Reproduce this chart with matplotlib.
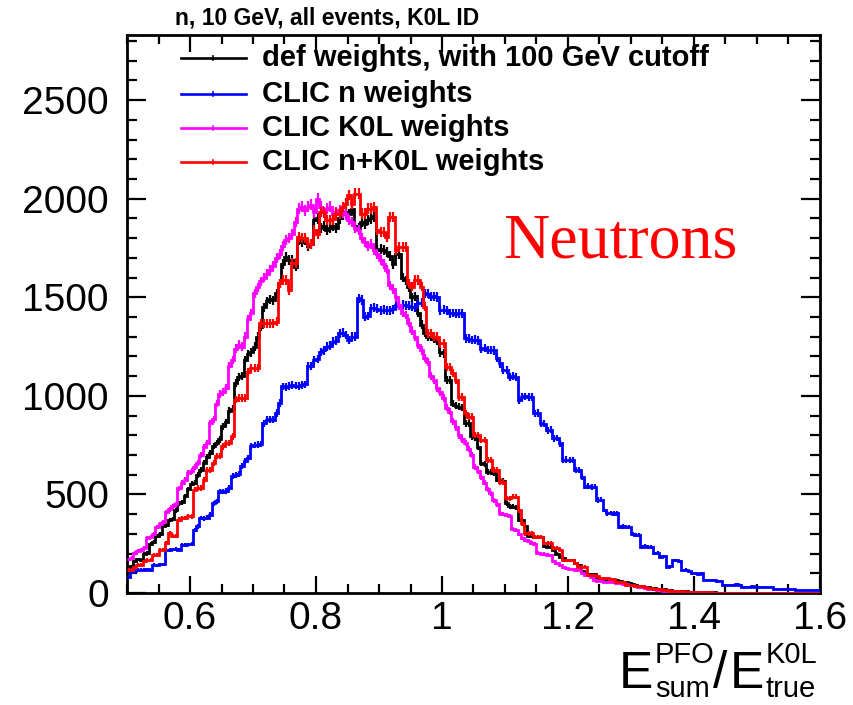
import numpy as np
import matplotlib
matplotlib.use('Agg')
import matplotlib.pyplot as plt
from matplotlib.lines import Line2D

plt.rcParams['font.family'] = ['Liberation Sans', 'DejaVu Sans']

x_lo, x_hi, bin_w = 0.5, 1.6, 0.005

# def weights, with 100 GeV cutoff (black)
def_weights = [
    130, 135, 160, 170, 165, 200, 205, 250, 260, 290,
    300, 340, 345, 370, 375, 420, 455, 460, 490, 525,
    555, 560, 600, 625, 660, 690, 710, 745, 760, 780,
    845, 865, 925, 935, 1065, 1095, 1100, 1180, 1210, 1220,
    1250, 1300, 1350, 1450, 1480, 1490, 1485, 1520, 1570, 1670,
    1705, 1690, 1690, 1655, 1790, 1780, 1790, 1760, 1770, 1890,
    1900, 1850, 1860, 1840, 1850, 1860, 1850, 1900, 1920, 1930,
    1920, 1950, 1860, 1850, 1880, 1870, 1890, 1900, 1910, 1740,
    1745, 1740, 1730, 1710, 1670, 1720, 1720, 1600, 1585, 1550,
    1500, 1505, 1420, 1360, 1320, 1300, 1300, 1290, 1280, 1220,
    1215, 1080, 1080, 960, 950, 945, 940, 860, 860, 795,
    790, 740, 660, 655, 615, 615, 610, 575, 575, 570,
    455, 440, 438, 435, 370, 368, 340, 290, 288, 285,
    284, 282, 240, 235, 232, 218, 200, 184, 180, 167,
    166, 165, 150, 140, 110, 100, 98, 97, 95, 80,
    70, 68, 66, 66, 65, 64, 62, 58, 55, 50,
    46, 42, 38, 35, 32, 30, 27, 25, 22, 20,
    18, 16, 14, 12, 11, 10, 9, 8, 7, 6,
    5, 5, 4, 4, 3, 3, 3, 2, 2, 2,
    2, 1, 1, 1, 1, 1, 0, 1, 0, 0,
    0, 0, 0, 0, 0, 0, 0, 0, 0, 0,
    0, 0, 0, 0, 0, 0, 0, 0, 0, 0,
]

# CLIC n weights (blue)
clic_n = [
    82, 106, 110, 118, 118, 118, 120, 117, 144, 142,
    145, 146, 220, 218, 221, 223, 220, 245, 244, 246,
    247, 321, 338, 380, 378, 382, 397, 456, 465, 516,
    514, 518, 532, 592, 600, 602, 642, 668, 685, 744,
    750, 752, 755, 862, 879, 880, 878, 913, 963, 1048,
    1046, 1050, 1056, 1052, 1050, 1055, 1058, 1149, 1150, 1182,
    1185, 1224, 1230, 1250, 1255, 1275, 1280, 1317, 1320, 1308,
    1283, 1300, 1300, 1494, 1486, 1401, 1405, 1444, 1446, 1442,
    1435, 1437, 1433, 1435, 1440, 1460, 1458, 1462, 1460, 1457,
    1452, 1450, 1469, 1471, 1520, 1518, 1503, 1505, 1501, 1435,
    1437, 1433, 1418, 1420, 1416, 1418, 1419, 1291, 1290, 1283,
    1285, 1281, 1240, 1242, 1232, 1234, 1230, 1190, 1164, 1131,
    1129, 1097, 1099, 1095, 978, 995, 997, 993, 995, 911,
    913, 860, 858, 826, 828, 784, 786, 759, 675, 677,
    673, 675, 624, 626, 590, 540, 542, 538, 540, 472,
    474, 421, 404, 406, 402, 404, 336, 338, 334, 336,
    300, 294, 292, 235, 237, 233, 235, 201, 203, 184,
    186, 133, 135, 167, 165, 160, 116, 118, 110, 99,
    101, 98, 99, 66, 67, 65, 64, 63, 62, 41,
    41, 40, 42, 46, 40, 32, 32, 31, 33, 32,
    32, 30, 30, 28, 30, 21, 21, 20, 22, 21,
    20, 18, 15, 15, 14, 15, 14, 15, 13, 14,
]

# CLIC K0L weights (magenta)
clic_k0l = [
    170, 180, 205, 215, 220, 230, 280, 285, 300, 335,
    350, 360, 410, 425, 440, 450, 530, 560, 575, 610,
    620, 640, 660, 700, 740, 760, 860, 880, 960, 1010,
    1020, 1040, 1150, 1180, 1240, 1260, 1250, 1300, 1390, 1420,
    1520, 1550, 1580, 1600, 1620, 1640, 1660, 1700, 1720, 1760,
    1790, 1800, 1820, 1880, 1950, 1960, 1940, 1960, 1970, 1930,
    2000, 1960, 1930, 1950, 1960, 1920, 1930, 1940, 1930, 1920,
    1890, 1880, 1850, 1840, 1800, 1780, 1760, 1770, 1740, 1720,
    1690, 1670, 1640, 1560, 1540, 1500, 1460, 1420, 1410, 1370,
    1330, 1300, 1260, 1230, 1190, 1170, 1100, 1080, 1040, 1020,
    990, 940, 920, 870, 840, 800, 780, 760, 730, 700,
    640, 620, 590, 560, 525, 505, 470, 450, 405, 400,
    395, 390, 325, 320, 300, 280, 270, 265, 255, 250,
    205, 200, 198, 195, 192, 160, 150, 140, 130, 125,
    122, 120, 118, 117, 100, 92, 90, 80, 66, 62,
    60, 58, 57, 56, 54, 52, 50, 48, 45, 42,
    40, 36, 32, 28, 25, 22, 20, 18, 16, 14,
    12, 11, 10, 9, 8, 7, 6, 6, 5, 4,
    4, 3, 3, 3, 2, 2, 2, 2, 1, 1,
    1, 1, 1, 1, 0, 1, 0, 1, 0, 0,
    0, 0, 0, 1, 0, 0, 0, 0, 0, 0,
    0, 0, 0, 0, 0, 0, 0, 0, 0, 0,
]

# CLIC n+K0L weights (red)
clic_nk0l = [
    118, 118, 130, 144, 144, 160, 169, 169, 194, 194,
    220, 220, 254, 304, 287, 287, 372, 380, 380, 389,
    389, 524, 532, 532, 574, 625, 625, 659, 693, 693,
    744, 761, 761, 794, 980, 989, 989, 989, 1122, 1140,
    1140, 1140, 1368, 1368, 1368, 1368, 1368, 1376, 1571, 1588,
    1588, 1537, 1672, 1672, 1807, 1800, 1800, 1772, 1772, 1840,
    1823, 1933, 1930, 1891, 1890, 1895, 1924, 1924, 1958, 1975,
    2018, 1975, 2026, 2026, 1924, 1924, 1950, 1950, 1958, 1840,
    1832, 1832, 1806, 1908, 1908, 1738, 1756, 1756, 1756, 1570,
    1553, 1587, 1587, 1553, 1452, 1317, 1317, 1300, 1300, 1266,
    1266, 1148, 1148, 1114, 1080, 995, 995, 911, 894, 894,
    801, 801, 776, 776, 675, 675, 624, 624, 564, 564,
    480, 480, 488, 488, 420, 353, 302, 302, 302, 285,
    285, 285, 252, 252, 252, 227, 227, 220, 167, 167,
    167, 167, 150, 133, 133, 133, 91, 91, 90, 88,
    76, 74, 74, 72, 70, 58, 57, 56, 42, 40,
    40, 38, 36, 33, 30, 27, 24, 22, 20, 18,
    16, 14, 12, 11, 10, 9, 8, 7, 6, 5,
    5, 4, 4, 3, 3, 3, 2, 2, 2, 2,
    1, 1, 1, 1, 1, 1, 1, 0, 1, 0,
    0, 0, 0, 0, 0, 0, 0, 0, 0, 0,
    0, 0, 0, 0, 0, 0, 0, 0, 0, 0,
]

series = [
    ("def weights, with 100 GeV cutoff", def_weights, "#000000"),
    ("CLIC n weights", clic_n, "#0000ff"),
    ("CLIC K0L weights", clic_k0l, "#ff00ff"),
    ("CLIC n+K0L weights", clic_nk0l, "#ff0000"),
]

W, H = 854, 705
fig = plt.figure(figsize=(W / 100, H / 100), dpi=100)
ax = fig.add_axes([127 / W, 1 - 593 / H, (820 - 127) / W, (593 - 35) / H])

n_bins = len(def_weights)
edges = x_lo + bin_w * np.arange(n_bins + 1)
centers = 0.5 * (edges[:-1] + edges[1:])

for label, vals, col in series:
    v = np.asarray(vals, dtype=float)
    ax.stairs(v, edges, color=col, lw=2.0, baseline=None, zorder=3)
    err = 0.6 * np.sqrt(v)
    mask = v > 0
    ax.vlines(centers[mask], (v - err)[mask], (v + err)[mask], color=col, lw=1.6, zorder=3)

ax.set_xlim(x_lo, x_hi)
ax.set_ylim(0, 2830)
ax.set_xticks([0.6, 0.8, 1.0, 1.2, 1.4, 1.6])
ax.set_xticklabels(["0.6", "0.8", "1", "1.2", "1.4", "1.6"])
ax.set_xticks(np.arange(0.5, 1.601, 0.05), minor=True)
ax.set_yticks([0, 500, 1000, 1500, 2000, 2500])
ax.set_yticks(np.arange(0, 2801, 100), minor=True)
ax.tick_params(which='both', direction='in', top=True, right=True, width=1.6, labelsize=28)
ax.tick_params(axis='y', which='major', length=14, pad=13)
ax.tick_params(axis='y', which='minor', length=7)
ax.tick_params(axis='x', which='major', length=12, pad=6)
ax.tick_params(axis='x', which='minor', length=6.5)
for s in ax.spines.values():
    s.set_linewidth(2)

# x-axis title, composed ROOT-style: E^{PFO}_{sum}/E^{K0L}_{true}
def ftxt(px, py, s, size):
    fig.text(px / W, 1 - py / H, s, ha='left', va='baseline', fontsize=size)

big, small = 37, 21
ftxt(619, 688, 'E', big)
ftxt(655, 663, 'PFO', small)
ftxt(655, 697, 'sum', small)
ftxt(713, 688, '/', big)
ftxt(730, 688, 'E', big)
ftxt(766, 663, 'K0L', small)
ftxt(766, 697, 'true', small)

# title
fig.text(175 / W, 1 - 18 / H, 'n, 10 GeV, all events, K0L ID', ha='left', va='center',
         fontsize=16.5, fontweight='bold')

# legend
rows_y = [58, 94, 128, 162]
for (label, vals, col), yy in zip(series, rows_y):
    fy = 1 - yy / H
    fig.add_artist(Line2D([181 / W, 246 / W], [fy, fy], color=col, lw=1.9, transform=fig.transFigure))
    fig.add_artist(Line2D([213.5 / W, 213.5 / W], [fy - 2 / H, fy + 2 / H], color=col, lw=1.2,
                          transform=fig.transFigure))
    fig.text(262 / W, fy, label, ha='left', va='center', fontsize=21, fontweight='bold')

fig.text(503 / W, 1 - 243 / H, 'Neutrons', ha='left', va='center', fontsize=46,
         color='#ff0000', family=['Liberation Serif', 'DejaVu Serif'])

fig.savefig('out.png', dpi=100)
